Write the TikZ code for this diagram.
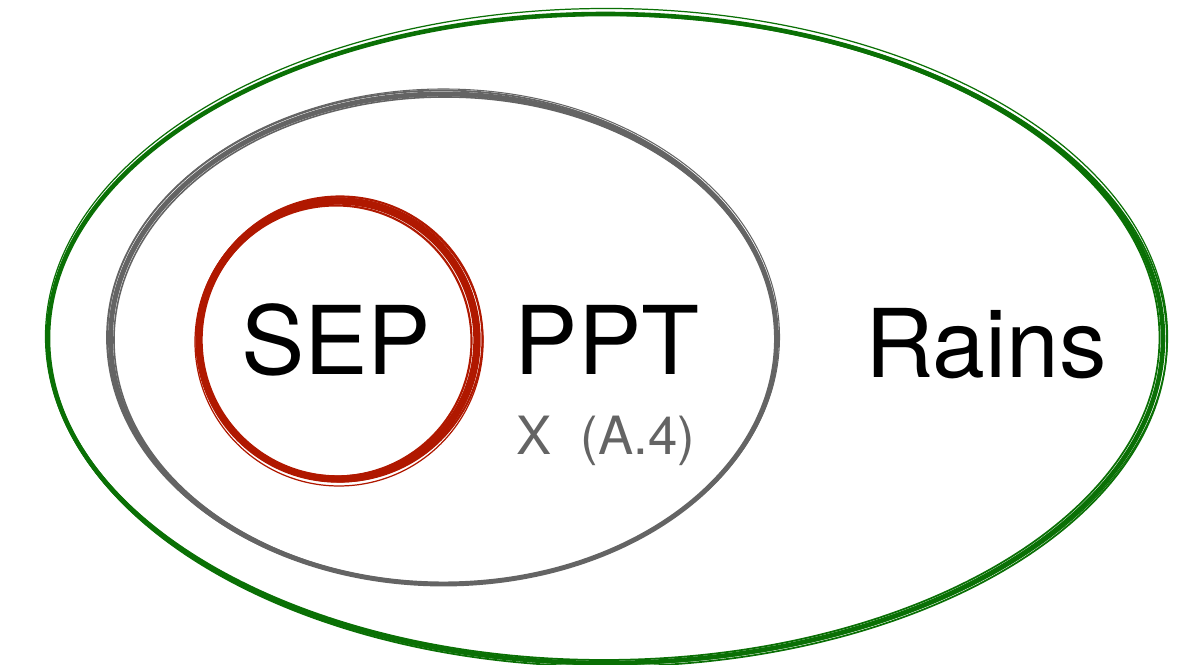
\documentclass[tikz,border=0pt]{standalone}
\usepackage{fontspec}
\setmainfont{TeX Gyre Heros}
\usetikzlibrary{positioning}

\definecolor{rainsgreen}{RGB}{10,112,5}
\definecolor{pptgray}{RGB}{100,100,100}
\definecolor{sepred}{RGB}{176,24,0}

\tikzset{
    setlabel/.style = {font=\fontsize{27}{30}\selectfont, inner sep=0pt, anchor=base},
    notelabel/.style = {font=\fontsize{15}{18}\selectfont, text=pptgray, inner sep=0pt, anchor=base},
}

\begin{document}
\begin{tikzpicture}
        
        % canvas
        \useasboundingbox (0,0) rectangle (12,-6.65);
        
        % Rains set, a few loose strokes
        \foreach \dx/\dy/\dr/\w in {0/0/0/1.3pt, 0.02/-0.015/0.02/0.5pt,
                                    -0.015/0.01/-0.02/0.5pt, 0.01/0.02/0.035/0.35pt}
            \draw [rainsgreen, line width=\w]
                (6.055+\dx,-3.385+\dy) ellipse [x radius=5.575cm+\dr cm, y radius=3.245cm+\dr cm];
        
        % PPT set
        \foreach \dx/\dy/\dr/\w in {0/0/0/1.4pt, -0.015/0.015/0.02/0.5pt,
                                    0.015/-0.01/-0.02/0.45pt, 0/0.02/0.03/0.3pt}
            \draw [pptgray, line width=\w]
                (4.435+\dx,-3.39+\dy) ellipse [x radius=3.33cm+\dr cm, y radius=2.45cm+\dr cm];
        
        % SEP set
        \foreach \dx/\dy/\dr/\w in {0/0/0/2.1pt, 0.02/0.01/0.035/0.6pt,
                                    -0.02/-0.01/-0.035/0.6pt, 0.01/-0.02/0.05/0.35pt}
            \draw [sepred, line width=\w]
                (3.38+\dx,-3.40+\dy) circle [radius=1.39cm+\dr cm];
        
        % Labels
        \node (sep) [setlabel] at (3.36,-3.75) {SEP};
        \node (ppt) [setlabel] at (6.07,-3.75) {PPT};
        \node (rains) [setlabel] at (9.86,-3.78) {Rains};
        \node (note) [notelabel] at (6.06,-4.55) {X\ \ (A.4)};
        
\end{tikzpicture}
\end{document}
